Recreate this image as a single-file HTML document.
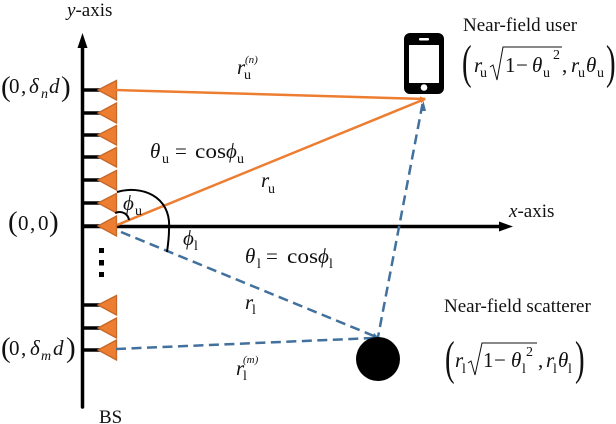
<!DOCTYPE html>
<html><head><meta charset="utf-8"><style>
html,body{margin:0;padding:0;background:#fff}
svg{display:block}
text{font-family:"Liberation Serif",serif;fill:#111}
.l{font-size:19px}
.m{font-size:21px}
.i{font-style:italic}
.s{font-size:14px}
.t{font-size:11px;font-style:italic}
</style></head><body>
<svg width="616" height="424" viewBox="0 0 616 424" xmlns="http://www.w3.org/2000/svg">
<defs>
<marker id="ao" markerWidth="7" markerHeight="7" refX="5" refY="3" orient="auto" markerUnits="userSpaceOnUse"><path d="M0,0.5L6,3L0,5.5z" fill="#ED7D31"/></marker>
</defs>
<!-- axes -->
<line x1="82.5" y1="46" x2="82.5" y2="407" stroke="#000" stroke-width="3.5" stroke-linecap="round"/>
<path d="M82.5,33L77.5,48H87.5z" fill="#000"/>
<line x1="82" y1="226.5" x2="503" y2="226.5" stroke="#000" stroke-width="3.5"/>
<path d="M513,226.5L499,221.5V231.5z" fill="#000"/>
<!-- stubs -->
<g stroke="#000" stroke-width="3.5">
<path d="M82,90H100M82,113H100M82,135H100M82,157H100M82,180H100M82,203H100M82,226H100M82,305H100M82,328H100M82,350H100"/>
</g>
<!-- elements -->
<g fill="#ED7D31" stroke="#C5682A" stroke-width="1.3">
<path d="M98,90L116.5,80.5V100z"/>
<path d="M98,113L116.5,103V123z"/>
<path d="M98,135L116.5,125.5V145z"/>
<path d="M98,157L116.5,147.5V167z"/>
<path d="M98,180L116.5,170.5V190z"/>
<path d="M98,203L116.5,193.5V213z"/>
<path d="M98,226L116.5,216V236z"/>
<path d="M98,305L116.5,295.5V315z"/>
<path d="M98,328L116.5,318V338z"/>
<path d="M98,350L116.5,340V360z"/>
</g>
<!-- orange lines -->
<line x1="116" y1="90" x2="425" y2="99" stroke="#ED7D31" stroke-width="2.5" marker-end="url(#ao)"/>
<line x1="117" y1="225" x2="425" y2="99" stroke="#ED7D31" stroke-width="2.5" marker-end="url(#ao)"/>
<!-- blue dashed -->
<g stroke="#41719C" stroke-width="2.5" stroke-dasharray="10 5.5" fill="none">
<line x1="422.5" y1="104" x2="378" y2="337"/>
<line x1="121" y1="232" x2="374" y2="336"/>
<line x1="116" y1="349" x2="374" y2="338"/>
</g>
<path d="M420,111L423.5,101L426,111z" fill="#41719C"/>
<path d="M374,333L380,339L372,339z" fill="#41719C"/>
<!-- dots -->
<g fill="#000"><rect x="99" y="248" width="5" height="5"/><rect x="99" y="260" width="5" height="5.5"/><rect x="99" y="272" width="5" height="5"/></g>
<!-- arcs -->
<path d="M117,192C140,185 172,195 169,230C169,238 168,245 167,252" fill="none" stroke="#000" stroke-width="2"/>
<path d="M115,213C122,210 128,214 129,220" fill="none" stroke="#000" stroke-width="2"/>
<!-- phone -->
<rect x="404" y="33" width="40" height="61" rx="6" fill="#000"/>
<rect x="409" y="45" width="30" height="38" fill="#fff"/>
<rect x="419" y="38" width="10" height="2.5" rx="1" fill="#fff"/>
<circle cx="424" cy="87.5" r="3.3" fill="#fff"/>
<!-- scatterer -->
<circle cx="378" cy="359" r="22" fill="#000"/>
<!-- labels -->
<text x="67" y="16" class="l"><tspan class="i">y</tspan>-axis</text>
<text x="509" y="217" class="l"><tspan class="i">x</tspan>-axis</text>
<text x="99" y="423" class="l">BS</text>
<text x="463" y="31" class="l">Near-field user</text>
<text x="444" y="312" class="l">Near-field scatterer</text>
<!-- left coords -->
<text x="1" y="96" style="font-size:29px;font-weight:normal">(</text>
<text x="9" y="93" class="m">0</text><text x="21" y="93" class="m">,</text>
<text x="29" y="93" class="m i">δ</text><text x="41" y="98" class="s i">n</text>
<text x="49" y="93" class="m i">d</text>
<text x="61" y="96" style="font-size:29px">)</text>
<text x="8" y="231" style="font-size:29px">(</text>
<text x="18" y="230" class="m">0</text><text x="30" y="230" class="m">,</text><text x="38" y="230" class="m">0</text>
<text x="49" y="231" style="font-size:29px">)</text>
<text x="1" y="357" style="font-size:29px">(</text>
<text x="9" y="355" class="m">0</text><text x="21" y="355" class="m">,</text>
<text x="30" y="355" class="m i">δ</text><text x="41" y="360" class="s i">m</text>
<text x="53" y="355" class="m i">d</text>
<text x="66" y="357" style="font-size:29px">)</text>
<!-- r labels -->
<text x="237" y="74" class="m i">r</text><text x="244" y="79" class="s">u</text><text x="245" y="63" class="t">(n)</text>
<text x="261" y="187" class="m i">r</text><text x="268" y="193" class="s">u</text>
<text x="245" y="309" class="m i">r</text><text x="252" y="314" class="s">l</text>
<text x="236" y="375" class="m i">r</text><text x="243" y="380" class="s">l</text><text x="243" y="363" class="t">(m)</text>
<!-- theta -->
<text x="150" y="158" class="m i">θ</text><text x="162" y="163" class="s">u</text><text x="175" y="158" class="m">=</text><text x="195" y="158" class="m" textLength="31" lengthAdjust="spacingAndGlyphs">cos</text><text x="226" y="158" class="m i">ϕ</text><text x="237" y="163" class="s">u</text>
<text x="245" y="263" class="m i">θ</text><text x="257" y="268" class="s">l</text><text x="266" y="263" class="m">=</text><text x="287" y="263" class="m" textLength="31" lengthAdjust="spacingAndGlyphs">cos</text><text x="318" y="263" class="m i">ϕ</text><text x="329" y="268" class="s">l</text>
<text x="123" y="210" class="m i">ϕ</text><text x="135" y="215" class="s">u</text>
<text x="183" y="245" class="m i">ϕ</text><text x="194" y="250" class="s">l</text>
<!-- user coords -->
<text x="462" y="78" style="font-size:48px" transform="translate(462,78) scale(.6,1) translate(-462,-78)">(</text>
<text x="474" y="72" class="m i">r</text><text x="480" y="77" class="s">u</text>
<path d="M490,67L493,65L497,80L503,47H562" fill="none" stroke="#111" stroke-width="1"/>
<text x="505" y="72" class="m">1</text><text x="516" y="72" class="m">−</text><text x="532" y="72" class="m i">θ</text><text x="543" y="77" class="s">u</text><text x="553" y="59" class="s">2</text>
<text x="562" y="72" class="m">,</text><text x="571" y="72" class="m i">r</text><text x="578" y="77" class="s">u</text><text x="586" y="72" class="m i">θ</text><text x="597" y="77" class="s">u</text>
<text x="606" y="78" style="font-size:48px" transform="translate(606,78) scale(.6,1) translate(-606,-78)">)</text>
<!-- scatterer coords -->
<text x="445" y="374" style="font-size:48px" transform="translate(445,374) scale(.6,1) translate(-445,-374)">(</text>
<text x="455" y="367" class="m i">r</text><text x="462" y="373" class="s">l</text>
<path d="M468,363L471,361L475,375L482,343H537" fill="none" stroke="#111" stroke-width="1"/>
<text x="483" y="367" class="m">1</text><text x="494" y="367" class="m">−</text><text x="511" y="367" class="m i">θ</text><text x="522" y="373" class="s">l</text><text x="526" y="356" class="s">2</text>
<text x="538" y="367" class="m">,</text><text x="546" y="367" class="m i">r</text><text x="553" y="373" class="s">l</text><text x="558" y="367" class="m i">θ</text><text x="568" y="373" class="s">l</text>
<text x="575" y="374" style="font-size:48px" transform="translate(575,374) scale(.6,1) translate(-575,-374)">)</text>
</svg>
</body></html>
